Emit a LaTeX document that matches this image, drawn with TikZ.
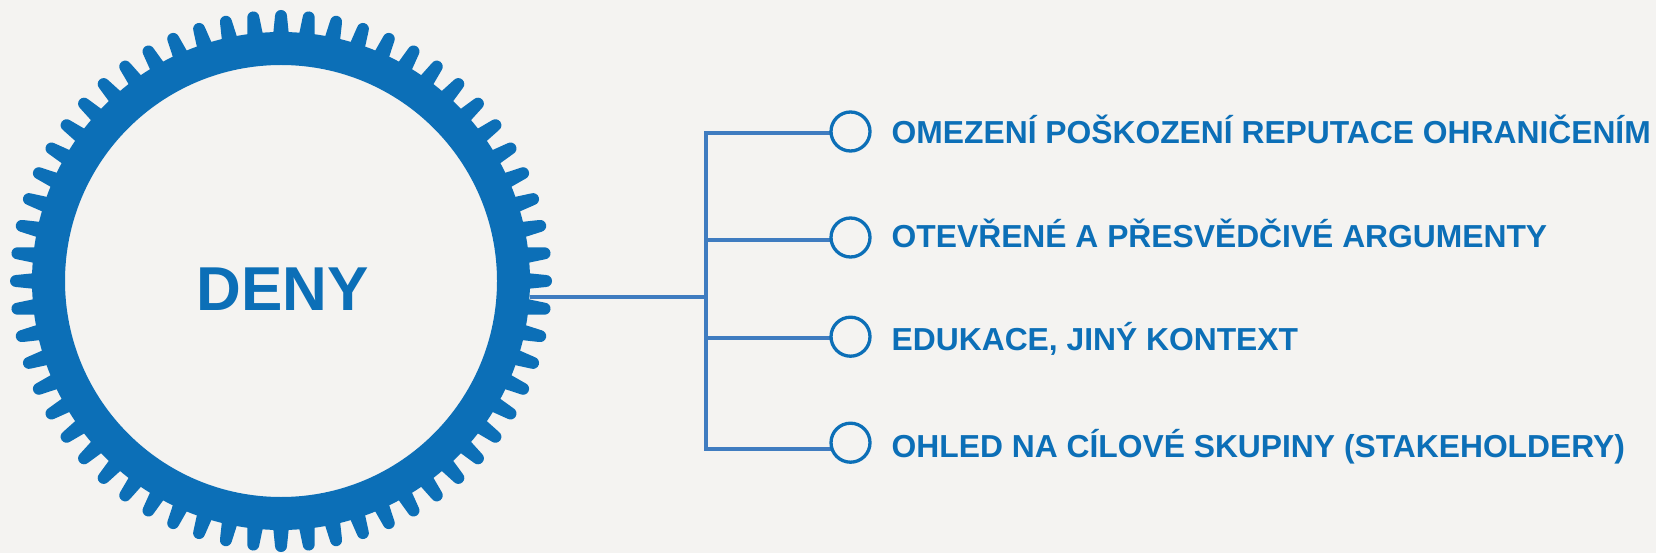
\documentclass[tikz,border=0pt]{standalone}
\usepackage{fontspec}
\setmainfont{Liberation Sans}
\usetikzlibrary{calc}
\pgfdeclarelayer{bg}
\pgfdeclarelayer{lines}
\pgfsetlayers{bg,lines,main}
\definecolor{gearblue}{HTML}{0C6FB7}
\definecolor{lineblue}{HTML}{3F7CC0}
\definecolor{paper}{HTML}{F4F3F1}
\tikzset{
  itemtext/.style={anchor=base west, inner sep=0pt, text=gearblue, font=\fontsize{31.8}{36}\selectfont\bfseries},
  bullet/.style={circle, draw=gearblue, line width=3.3pt, fill=paper, minimum size=39pt, inner sep=0pt},
  branch/.style={draw=lineblue, line width=4pt},
  tooth/.style={fill=gearblue}
}
\begin{document}
\begin{tikzpicture}[x=1pt,y=-1pt]
\useasboundingbox (0,0) rectangle (1656,553);
\begin{pgfonlayer}{bg}
\fill[paper] (0,0) rectangle (1656,553);
\end{pgfonlayer}
% gear
\coordinate (gc) at (281,281);
\foreach \a in {0,6,...,354}{
  \fill[tooth,rotate around={\a:(gc)}] ($(gc)+(240,-8.5)$) -- ($(gc)+(265,-6)$) arc(-90:90:6) -- ($(gc)+(240,8.5)$) -- cycle;
}
\draw[gearblue, line width=33pt] (gc) circle (232.5);
\node[circle, minimum size=498pt, inner sep=0pt] (gear) at (gc) {};
\node[anchor=base, inner sep=0pt, text=gearblue, font=\fontsize{62}{70}\selectfont\bfseries] (deny) at (283,310) {DENY};
% bullets
\node[bullet] (c1) at (850.5,131.5) {};
\node[bullet] (c2) at (850.5,237.5) {};
\node[bullet] (c3) at (850.5,336.7) {};
\node[bullet] (c4) at (850.5,442.7) {};
% connectors
\coordinate (j) at (705.7,297);
\coordinate (b1) at (705.7,133);
\coordinate (b2) at (705.7,240);
\coordinate (b3) at (705.7,338.3);
\coordinate (b4) at (705.7,449);
\begin{pgfonlayer}{lines}
\draw[branch] (j -| gear.east) -- (j);
\draw[branch, line cap=rect] (b1) -- (b4);
\foreach \i in {1,2,3,4}{
  \draw[branch] (b\i) -- (b\i -| c\i.center);
}
\end{pgfonlayer}
% texts
\node[itemtext] (t1) at (891.5,144) {OMEZENÍ POŠKOZENÍ REPUTACE OHRANIČENÍM};
\node[itemtext] (t2) at (891.5,247.3) {OTEVŘENÉ A PŘESVĚDČIVÉ ARGUMENTY};
\node[itemtext] (t3) at (891.5,350.7) {EDUKACE, JINÝ KONTEXT};
\node[itemtext] (t4) at (891.5,457) {OHLED NA CÍLOVÉ SKUPINY (STAKEHOLDERY)};
\end{tikzpicture}
\end{document}
